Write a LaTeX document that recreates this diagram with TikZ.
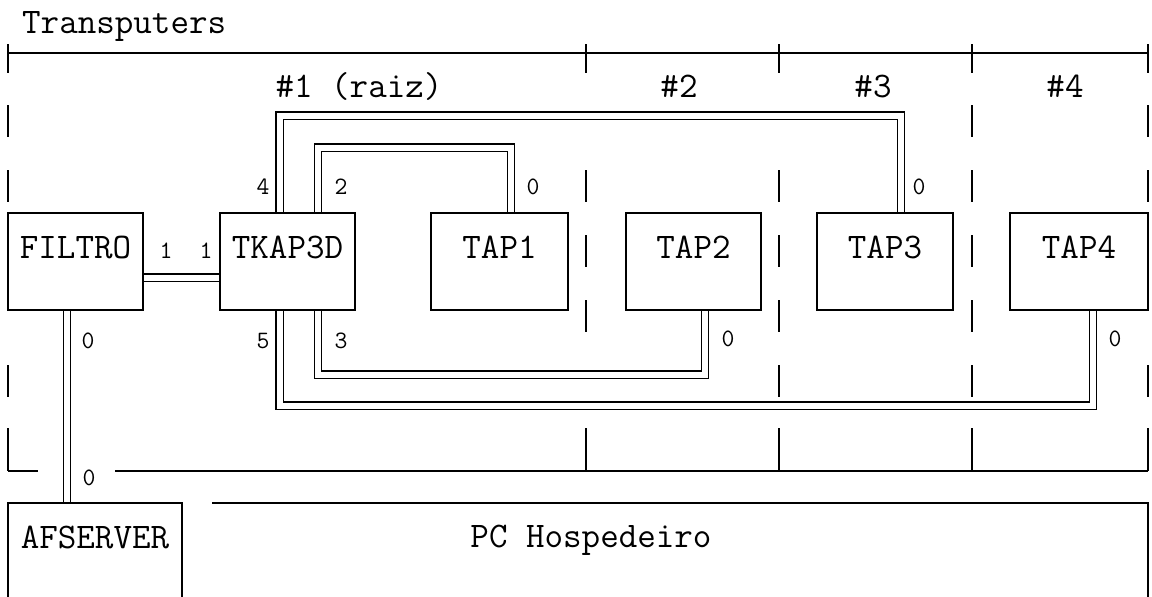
\documentclass[tikz,border=0pt]{standalone}
\usetikzlibrary{backgrounds}
\tikzset{
  box/.style={draw, line width=1.4pt, inner sep=0pt, text height=45pt, text depth=52pt,
    font=\fontsize{36}{40}\selectfont\ttfamily},
  frm/.style={line width=1.4pt},
  link/.style={double, double distance=6pt, line width=1.3pt},
  port/.style={inner sep=0pt, font=\fontsize{25}{28}\selectfont\ttfamily},
  txt/.style={inner sep=0pt, font=\fontsize{36}{40}\selectfont\ttfamily},
}
\begin{document}
\begin{tikzpicture}[x=1pt,y=-1pt]
\useasboundingbox (0,0) rectangle (1152,597);
\clip (0,0) rectangle (1152,597);

% title and column headings
\node[txt, anchor=base west] (title) at (22,33) {Transputers};
\node[txt, anchor=base] (h1) at (359,97) {\#1 (raiz)};
\node[txt, anchor=base] (h2) at (679,97) {\#2};
\node[txt, anchor=base] (h3) at (873,97) {\#3};
\node[txt, anchor=base] (h4) at (1065,97) {\#4};

% process boxes
\node[box, minimum width=135pt] (filtro) at (75.5,261.5) {FILTRO};
\node[box, minimum width=135pt] (tk) at (287.5,261.5) {TKAP3D};
\node[box, minimum width=137pt] (tap1) at (499.5,261.5) {TAP1};
\node[box, minimum width=135pt] (tap2) at (693.5,261.5) {TAP2};
\node[box, minimum width=136pt] (tap3) at (885,261.5) {TAP3};
\node[box, minimum width=138pt] (tap4) at (1079,261.5) {TAP4};
\node[box, minimum width=174pt, text depth=90pt] (afs) at (95,570.5) {AFSERVER};

% PC host
\node[txt, anchor=base] (pc) at (591,547) {PC Hospedeiro};
\draw[frm] (212,503) -- (1148,503) -- (1148,600);

% Transputers frame
\draw[frm] (8,53) -- (1148,53);
\draw[frm] (8,471) -- (38,471);
\draw[frm] (115,471) -- (1148,471);
\foreach \a/\b in {44/73,105/137,170/202,365/397,428/471}{
  \draw[frm] (8,\a) -- (8,\b);
  \draw[frm] (1148,\a) -- (1148,\b);
}
\foreach \a/\b in {44/73,170/202,235/267,300/332,428/471}{
  \draw[frm] (586,\a) -- (586,\b);
}
\foreach \a/\b in {44/73,170/202,235/267,300/332,365/397,428/471}{
  \draw[frm] (779,\a) -- (779,\b);
}
\foreach \a/\b in {44/73,105/137,170/202,235/267,300/332,365/397,428/471}{
  \draw[frm] (972,\a) -- (972,\b);
}

% connectors
\coordinate (r4) at (0,115.5);
\coordinate (r2) at (0,147.5);
\coordinate (r3) at (0,374.5);
\coordinate (r5) at (0,405.5);
\begin{scope}[on background layer]
\draw[link] ([yshift=-16pt]filtro.east) -- ([yshift=-16pt]tk.west);
\draw[link] ([xshift=-8.5pt]filtro.south) -- ([xshift=-8.5pt]filtro.south |- afs.north);
\draw[link] ([xshift=-8pt]tk.north) -- ([xshift=-8pt]tk.north |- r4) -| ([xshift=16pt]tap3.north);
\draw[link] ([xshift=30.5pt]tk.north) -- ([xshift=30.5pt]tk.north |- r2) -| ([xshift=11.5pt]tap1.north);
\draw[link] ([xshift=30.5pt]tk.south) -- ([xshift=30.5pt]tk.south |- r3) -| ([xshift=11.5pt]tap2.south);
\draw[link] ([xshift=-8pt]tk.south) -- ([xshift=-8pt]tk.south |- r5) -| ([xshift=14pt]tap4.south);
\end{scope}

% port labels
\node[port] (p1a) at (166,251) {1};
\node[port] (p1b) at (206,251) {1};
\node[port] (p4) at (263,187) {4};
\node[port] (p2) at (341,187) {2};
\node[port] (p5) at (263,341) {5};
\node[port] (p3) at (341,341) {3};
\node[port] (p0t1) at (533,187) {0};
\node[port] (p0t3) at (919,187) {0};
\node[port] (p0t2) at (728,339) {0};
\node[port] (p0t4) at (1115,339) {0};
\node[port] (p0f) at (88,341) {0};
\node[port] (p0a) at (89,478) {0};
\end{tikzpicture}
\end{document}
